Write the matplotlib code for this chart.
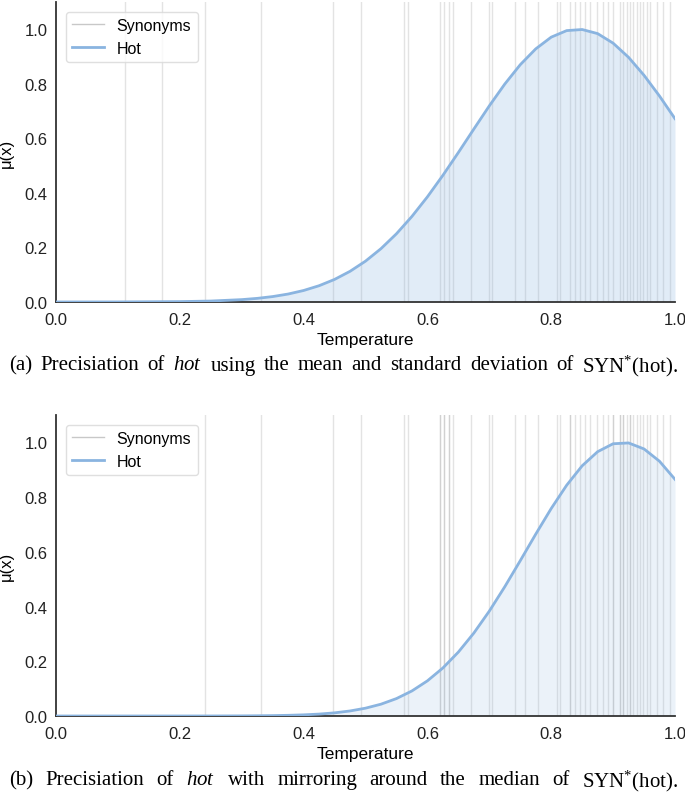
import matplotlib
matplotlib.use("Agg")
import matplotlib.pyplot as plt
from matplotlib.lines import Line2D

# temperature values of the synonyms of "hot"
syn_mean = [0.111, 0.171, 0.241, 0.331, 0.447, 0.493, 0.562, 0.569, 0.620, 0.627,
            0.635, 0.641, 0.670, 0.700, 0.704, 0.742, 0.758, 0.779, 0.809, 0.814,
            0.830, 0.838, 0.847, 0.855, 0.863, 0.874, 0.884, 0.892, 0.900, 0.911,
            0.916, 0.922, 0.927, 0.932, 0.939, 0.943, 0.948, 0.955, 0.960, 0.971,
            0.981, 0.992]
syn_median = [0.241, 0.331, 0.447, 0.493, 0.562, 0.569, 0.620, 0.620, 0.627, 0.627,
              0.635, 0.635, 0.641, 0.670, 0.700, 0.704, 0.742, 0.758, 0.779, 0.809,
              0.814, 0.830, 0.830, 0.838, 0.847, 0.855, 0.863, 0.874, 0.884, 0.892,
              0.900, 0.900, 0.911, 0.911, 0.916, 0.916, 0.922, 0.927, 0.927, 0.932,
              0.939, 0.943, 0.948, 0.955, 0.960, 0.971, 0.981, 0.992]

# membership curves
temp = [0.0, 0.1, 0.2, 0.25, 0.3, 0.325, 0.35, 0.375, 0.4, 0.425, 0.45, 0.475,
        0.5, 0.525, 0.55, 0.575, 0.6, 0.625, 0.65, 0.675, 0.7, 0.725, 0.75,
        0.775, 0.8, 0.825, 0.85, 0.875, 0.9, 0.925, 0.95, 0.975, 1.0]
mu_mean = [0.0, 0.0001, 0.0013, 0.0034, 0.0086, 0.0132, 0.0198, 0.0291, 0.0421,
           0.0596, 0.0827, 0.1124, 0.1497, 0.1955, 0.2501, 0.3137, 0.3855, 0.4643,
           0.548, 0.634, 0.719, 0.799, 0.870, 0.928, 0.971, 0.995, 0.999, 0.984,
           0.949, 0.897, 0.831, 0.755, 0.672]
mu_median = [0.0, 0.0, 0.0, 0.0001, 0.0004, 0.0008, 0.0014, 0.0025, 0.0042, 0.0070,
             0.0115, 0.0184, 0.0286, 0.0432, 0.0637, 0.0916, 0.1285, 0.1755,
             0.2336, 0.3031, 0.3833, 0.4725, 0.5676, 0.6646, 0.7583, 0.8435,
             0.9144, 0.966, 0.995, 0.998, 0.976, 0.931, 0.865]

captions = [r"(a) Precisiation of $\mathit{hot}$ using the mean and standard deviation of SYN$^{*}$(hot).",
            r"(b) Precisiation of $\mathit{hot}$ with mirroring around the median of SYN$^{*}$(hot)."]

plt.rcParams['font.family'] = ['Liberation Sans', 'DejaVu Sans']
plt.rcParams['mathtext.fontset'] = 'custom'
plt.rcParams['mathtext.rm'] = 'Liberation Serif'
plt.rcParams['mathtext.it'] = 'Liberation Serif:italic'

W, H = 685, 803
blue = '#8ab4e0'
fig = plt.figure(figsize=(6.85, 8.03), dpi=100)
ax1 = fig.add_axes([0.0818, 0.6227, 0.9036, 0.3736])
ax2 = fig.add_axes([0.0818, 0.1071, 0.9036, 0.3748])


def justified(text, y_px, x0=9, x1=678):
    # lay the caption out word by word across the full width
    words = text.split(' ')
    objs = [fig.text(0, 1 - y_px / H, w, ha='left', va='center', fontsize=15,
                     family='Liberation Serif') for w in words]
    fig.canvas.draw()
    r = fig.canvas.get_renderer()
    widths = [o.get_window_extent(r).width for o in objs]
    gap = (x1 - x0 - sum(widths)) / (len(words) - 1)
    x = x0
    for o, w in zip(objs, widths):
        o.set_x(x / W)
        x += w + gap


for ax, syns, mu, fill_a in [(ax1, syn_mean, mu_mean, 0.25),
                             (ax2, syn_median, mu_median, 0.17)]:
    for s in syns:
        ax.axvline(s, color='#b0b0b0', lw=1, alpha=0.35, zorder=1)
    ax.plot(temp, mu, color=blue, lw=2, zorder=3)
    ax.fill_between(temp, mu, color=blue, alpha=fill_a, lw=0, zorder=2)
    ax.set_xlim(0, 1)
    ax.set_ylim(0, 1.1)
    ax.set_xticks([0.0, 0.2, 0.4, 0.6, 0.8, 1.0])
    ax.set_yticks([0.0, 0.2, 0.4, 0.6, 0.8, 1.0])
    ax.tick_params(length=0, labelsize=12, colors='#222222')
    ax.tick_params(axis='x', pad=7)
    ax.tick_params(axis='y', pad=6)
    ax.set_xlabel('Temperature', fontsize=12.5, labelpad=4)
    ax.set_ylabel('μ(x)', fontsize=12, labelpad=8)
    for side in ['top', 'right']:
        ax.spines[side].set_visible(False)
    for side in ['left', 'bottom']:
        ax.spines[side].set_color('#333333')
        ax.spines[side].set_linewidth(1.3)
    handles = [Line2D([], [], color='#c8c8c8', lw=1),
               Line2D([], [], color=blue, lw=2)]
    leg = ax.legend(handles, ['Synonyms', 'Hot'], loc='upper left', fontsize=11.5,
                    frameon=True, fancybox=True, borderaxespad=0.6)
    leg.get_frame().set_edgecolor('#d8d8d8')

justified(captions[0], 366)
justified(captions[1], 781)

fig.savefig('out.png', dpi=100)
